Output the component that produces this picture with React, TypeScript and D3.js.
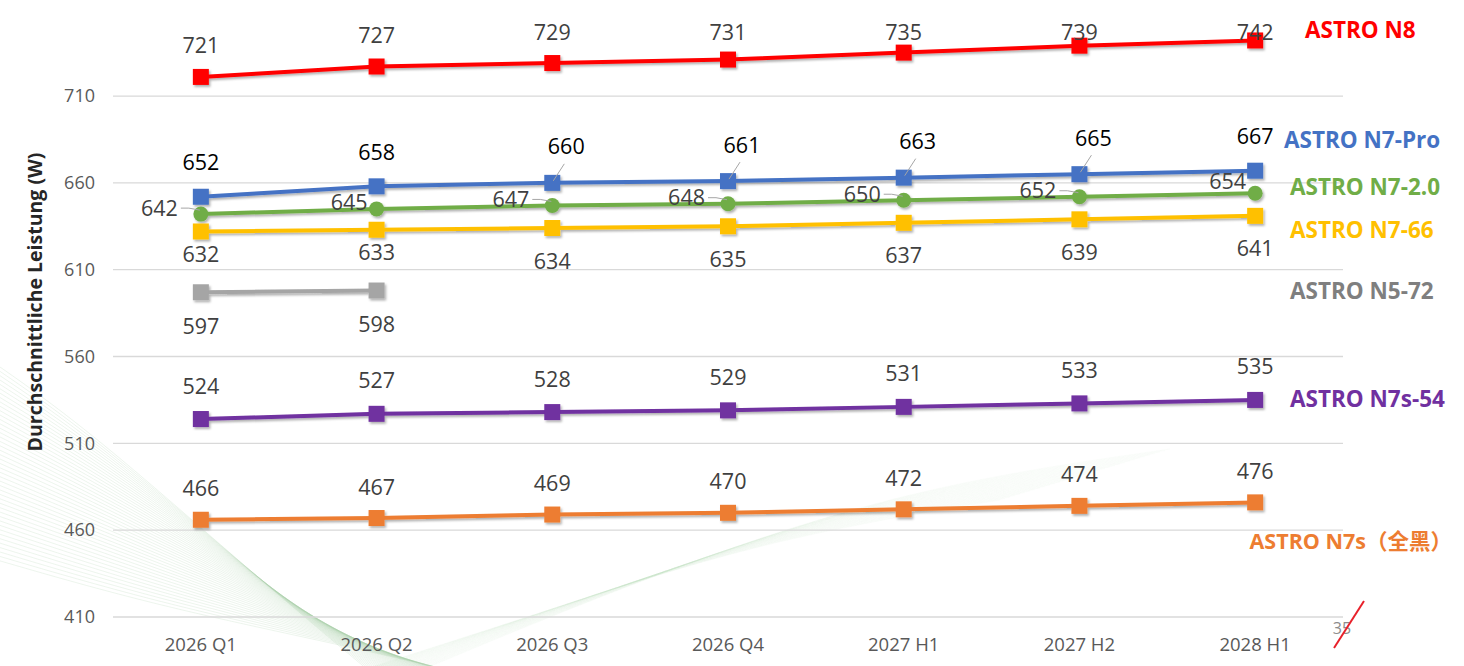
import React from 'react';
import * as d3 from 'd3';

// categories and tick labels
const categories = ['2026 Q1', '2026 Q2', '2026 Q3', '2026 Q4', '2027 H1', '2027 H2', '2028 H1'];
const yTicks = [410, 460, 510, 560, 610, 660, 710];

// series values (W)
const n8Values = [721, 727, 729, 731, 735, 739, 742];
const n7ProValues = [652, 658, 660, 661, 663, 665, 667];
const n720Values = [642, 645, 647, 648, 650, 652, 654];
const n766Values = [632, 633, 634, 635, 637, 639, 641];
const n572Values = [597, 598];
const n7s54Values = [524, 527, 528, 529, 531, 533, 535];
const n7sBlackValues = [466, 467, 469, 470, 472, 474, 476];

type LabelPos = 'above' | 'below' | 'left';

interface Series {
  name: string;
  values: number[];
  color: string;
  textColor: string;
  labelColor: string;
  marker: 'square' | 'circle';
  labelPos: LabelPos;
  dy: number;
  firstDy?: number;
  leaders?: number[];
  legendX: number;
  legendY: number;
  legendAnchor?: 'start' | 'end';
}

const series: Series[] = [
  { name: 'ASTRO N8', values: n8Values, color: '#FF0000', textColor: '#FF0000', labelColor: '#404040', marker: 'square', labelPos: 'above', dy: -31, legendX: 1305, legendY: 30 },
  { name: 'ASTRO N7-Pro', values: n7ProValues, color: '#4472C4', textColor: '#4472C4', labelColor: '#000000', marker: 'square', labelPos: 'above', dy: -34, leaders: [2, 3, 4, 5], legendX: 1284, legendY: 140 },
  { name: 'ASTRO N7-2.0', values: n720Values, color: '#70AD47', textColor: '#70AD47', labelColor: '#404040', marker: 'circle', labelPos: 'left', dy: -6, leaders: [0, 2, 3, 4, 5], legendX: 1290, legendY: 187 },
  { name: 'ASTRO N7-66', values: n766Values, color: '#FFC000', textColor: '#FFC000', labelColor: '#404040', marker: 'square', labelPos: 'below', dy: 33, firstDy: 23, legendX: 1290, legendY: 230 },
  { name: 'ASTRO N5-72', values: n572Values, color: '#A5A5A5', textColor: '#7F7F7F', labelColor: '#404040', marker: 'square', labelPos: 'below', dy: 34, legendX: 1290, legendY: 291 },
  { name: 'ASTRO N7s-54', values: n7s54Values, color: '#7030A0', textColor: '#7030A0', labelColor: '#404040', marker: 'square', labelPos: 'above', dy: -33, legendX: 1290, legendY: 399 },
  { name: 'ASTRO N7s（全黑）', values: n7sBlackValues, color: '#ED7D31', textColor: '#ED7D31', labelColor: '#404040', marker: 'square', labelPos: 'above', dy: -31, legendX: 1452, legendY: 541, legendAnchor: 'end' },
];

const W = 1464;
const H = 666;
const FONT = "'Open Sans', 'Noto Sans CJK SC', sans-serif";

export default function App() {
  const x = d3.scalePoint<string>().domain(categories).range([113, 1343]).padding(0.5);
  const y = d3.scaleLinear().domain([410, 760]).range([617, 9.2]);
  const px = (i: number) => x(categories[i]) as number;

  const line = d3
    .line<number>()
    .x((_, i) => px(i))
    .y(d => y(d));

  // decorative swooshes in the background
  const swoosh = d3.line<[number, number]>().curve(d3.curveBasis);
  const swooshA = d3.range(45).map(i => swoosh([
    [-10, 360 + i * 4.5],
    [90 + i * 1.5, 430 + i * 4],
    [260 + i * 2, 580 + i * 1.5],
    [380 + i * 2.5, 680],
  ]));
  const swooshB = d3.range(35).map(i => swoosh([
    [330 + i * 2, 680],
    [520 + i * 3, 620 - i],
    [760 + i * 4, 540 - i * 1.5],
    [1000 + i * 5, 500 - i * 1.5],
  ]));

  return (
    <svg
      width={W}
      height={H}
      style={{ position: 'absolute', left: 0, top: 0, background: '#fff' }}
      fontFamily={FONT}
    >
      <defs>
        <filter id="shadow" x="-10%" y="-50%" width="120%" height="200%">
          <feDropShadow dx="1.5" dy="2" stdDeviation="1.2" floodColor="#000" floodOpacity="0.3" />
        </filter>
      </defs>

      <g fill="none" strokeWidth={1}>
        {swooshA.map((d, i) => (
          <path key={'a' + i} d={d ?? ''} stroke="#a3cfa3" strokeOpacity={0.2} />
        ))}
        {swooshB.map((d, i) => (
          <path key={'b' + i} d={d ?? ''} stroke="#b9d9b9" strokeOpacity={0.06} />
        ))}
      </g>

      {/* gridlines */}
      {yTicks.map(t => (
        <g key={t}>
          <line x1={113} x2={1343} y1={y(t)} y2={y(t)} stroke="#D9D9D9" strokeWidth={1.3} />
          <text x={95} y={y(t)} dy="0.35em" textAnchor="end" fontSize={18} fill="#595959">{t}</text>
        </g>
      ))}

      {/* x labels */}
      {categories.map((c, i) => (
        <text key={c} x={px(i)} y={645} dy="0.35em" textAnchor="middle" fontSize={18.5} fill="#595959">{c}</text>
      ))}

      {/* axis title */}
      <text
        transform="translate(35,302) rotate(-90)"
        textAnchor="middle"
        dy="0.35em"
        fontSize={19.5}
        fontWeight="bold"
        fill="#262626"
      >
        Durchschnittliche Leistung (W)
      </text>

      {/* lines and markers */}
      {series.map(s => (
        <g key={s.name} filter="url(#shadow)">
          <path d={line(s.values) ?? ''} fill="none" stroke={s.color} strokeWidth={4} />
          {s.values.map((v, i) =>
            s.marker === 'square' ? (
              <rect key={i} x={px(i) - 8} y={y(v) - 8} width={16} height={16} fill={s.color} />
            ) : (
              <circle key={i} cx={px(i)} cy={y(v)} r={7.5} fill={s.color} />
            )
          )}
        </g>
      ))}

      {/* data labels */}
      {series.map(s => (
        <g key={s.name + '-labels'} fontSize={21.5} fill={s.labelColor}>
          {s.values.map((v, i) => {
            const mx = px(i);
            const my = y(v);
            const hasLeader = s.leaders?.includes(i);
            if (s.labelPos === 'left') {
              const tight = !hasLeader;
              const endX = mx - (tight ? 9 : 23);
              const ly = my + (tight ? (i === s.values.length - 1 ? -12 : -6) : s.dy);
              return (
                <g key={i}>
                  {hasLeader && (
                    <polyline
                      points={`${endX + 3},${ly} ${endX + 11},${ly} ${mx - 1},${my - 4}`}
                      fill="none"
                      stroke="#A6A6A6"
                      strokeWidth={1}
                    />
                  )}
                  <text x={endX} y={ly} dy="0.35em" textAnchor="end">{v}</text>
                </g>
              );
            }
            let lx = mx;
            let ly = my + (s.firstDy !== undefined && i < 2 ? s.firstDy : s.dy);
            if (s.name === 'ASTRO N8') ly = Math.max(ly, 32);
            if (hasLeader) {
              lx = mx + 14;
              ly = my - 36;
            }
            return (
              <g key={i}>
                {hasLeader && (
                  <line x1={lx - 2} y1={ly + 17} x2={mx + 1} y2={my - 2} stroke="#A6A6A6" strokeWidth={1} />
                )}
                <text x={lx} y={ly} dy="0.35em" textAnchor="middle">{v}</text>
              </g>
            );
          })}
        </g>
      ))}

      {/* series name labels */}
      {series.map(s => (
        <text
          key={s.name + '-legend'}
          x={s.legendX}
          y={s.legendY}
          dy="0.35em"
          textAnchor={s.legendAnchor ?? 'start'}
          fontSize={s.legendAnchor === 'end' ? 21.5 : 22.5}
          fontWeight="bold"
          fill={s.textColor}
        >
          {s.name}
        </text>
      ))}

      {/* page number */}
      <text x={1342} y={628} dy="0.35em" textAnchor="middle" fontSize={16} fill="#8C8C8C">35</text>
      <line x1={1334} y1={648} x2={1364} y2={601} stroke="#E8202A" strokeWidth={2} />
    </svg>
  );
}
